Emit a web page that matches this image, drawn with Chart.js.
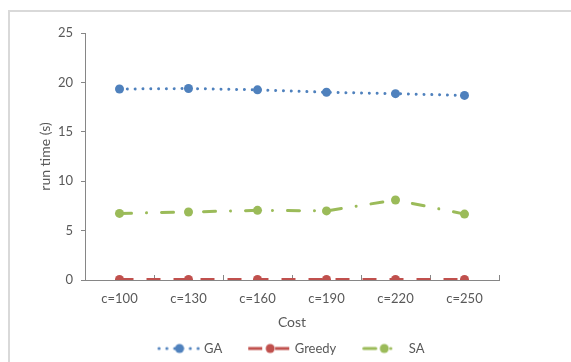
<!DOCTYPE html>
<html><head><meta charset="utf-8">
<script src="https://cdn.jsdelivr.net/npm/chart.js@4.4.0/dist/chart.umd.min.js"></script>
<style>html,body{margin:0;padding:0;background:#fff;overflow:hidden}canvas{display:block}</style>
</head><body>
<canvas id="c" width="571" height="362"></canvas>
<script>
const categories = ['c=100', 'c=130', 'c=160', 'c=190', 'c=220', 'c=250'];
const gaValues = [19.33, 19.38, 19.25, 19.0, 18.86, 18.68];
const greedyValues = [0.05, 0.05, 0.05, 0.05, 0.05, 0.05];
const saValues = [6.74, 6.88, 7.05, 6.99, 8.1, 6.67];
const seriesNames = ['GA', 'Greedy', 'SA'];
const yAxisTitle = 'run time (s)';
const xAxisTitle = 'Cost';

const BLUE = '#4F81BD', RED = '#C0504D', GREEN = '#9BBB59';
const TEXT = '#595959', AXIS = '#868686';
const FONT = 'Lato, "Open Sans", sans-serif';

const styles = [
  {color: BLUE, dash: [0.01, 7.8], cap: 'round', len: 44},
  {color: RED, dash: [14, 13], cap: 'butt', len: 44},
  {color: GREEN, dash: [12, 15, 0.01, 15], cap: 'round', len: 31}
];

function legendImage(st) {
  const M = 22, L = 44, W = M + L, H = 12;
  const cv = document.createElement('canvas');
  cv.width = W; cv.height = H;
  const g = cv.getContext('2d');
  g.strokeStyle = st.color; g.lineWidth = 3; g.lineCap = st.cap;
  g.setLineDash(st.dash);
  g.beginPath();
  const off = st.cap === 'round' ? 1.5 : 0;
  g.moveTo(M + off, H / 2); g.lineTo(M + st.len - off, H / 2); g.stroke();
  g.setLineDash([]);
  g.fillStyle = st.color;
  g.beginPath(); g.arc(M + L / 2, H / 2, 4.5, 0, Math.PI * 2); g.fill();
  return cv;
}

const framePlugin = {
  id: 'frame',
  afterLayout(chart) {
    const lg = chart.legend;
    if (lg) { lg.left -= 10; lg.right -= 10; lg.top += 3; lg.bottom += 3; }
  },
  beforeDraw(chart) {
    const ctx = chart.ctx;
    ctx.save();
    ctx.fillStyle = '#fff';
    ctx.fillRect(0, 0, chart.width, chart.height);
    ctx.strokeStyle = '#d9d9d9';
    ctx.lineWidth = 2;
    ctx.strokeRect(9, 11, 800, 600);
    ctx.restore();
  }
};

const allValues = [gaValues, greedyValues, saValues];
const datasets = allValues.map((vals, i) => ({
  label: seriesNames[i],
  data: vals,
  borderColor: styles[i].color,
  backgroundColor: styles[i].color,
  borderWidth: 3,
  borderDash: styles[i].dash,
  borderCapStyle: styles[i].cap,
  pointStyle: 'circle',
  pointRadius: 4.5,
  pointHoverRadius: 4.5,
  pointBorderWidth: 0,
  pointBackgroundColor: styles[i].color,
  tension: 0,
  fill: false
}));

new Chart(document.getElementById('c'), {
  type: 'line',
  data: {labels: categories, datasets},
  plugins: [framePlugin],
  options: {
    responsive: false,
    animation: false,
    devicePixelRatio: 1,
    layout: {padding: {left: 30, right: 72, top: 33, bottom: 0}},
    plugins: {
      tooltip: {enabled: false},
      legend: {
        position: 'bottom',
        fullSize: false,
        labels: {
          usePointStyle: true,
          pointStyleWidth: 58,
          padding: 8,
          color: TEXT,
          font: {family: FONT, size: 13},
          generateLabels(chart) {
            const items = Chart.defaults.plugins.legend.labels.generateLabels(chart);
            items.forEach((it, i) => { it.pointStyle = legendImage(styles[i]); it.lineWidth = 0; });
            return items;
          }
        }
      }
    },
    scales: {
      x: {
        offset: true,
        grid: {offset: true, drawOnChartArea: false, drawTicks: true, tickLength: -5, color: AXIS},
        border: {color: AXIS, width: 1},
        ticks: {color: TEXT, font: {family: FONT, size: 13}, padding: 16, maxRotation: 0},
        title: {display: true, text: xAxisTitle, color: TEXT, font: {family: FONT, size: 14}, padding: {top: 0, bottom: 0}},
        afterFit(s) { s.height = 51; }
      },
      y: {
        min: 0, max: 25,
        afterBuildTicks(s) { s.ticks = [0, 5, 10, 15, 20, 25].map(v => ({value: v})); },
        grid: {drawOnChartArea: false, drawTicks: true, tickLength: 4, color: AXIS},
        border: {color: AXIS, width: 1},
        ticks: {color: TEXT, font: {family: FONT, size: 13}, padding: 8},
        title: {display: true, text: yAxisTitle, color: TEXT, font: {family: FONT, size: 14}, padding: {top: 7, bottom: 4}},
        afterFit(s) { s.width = 55; }
      }
    }
  }
});
</script>
</body></html>
